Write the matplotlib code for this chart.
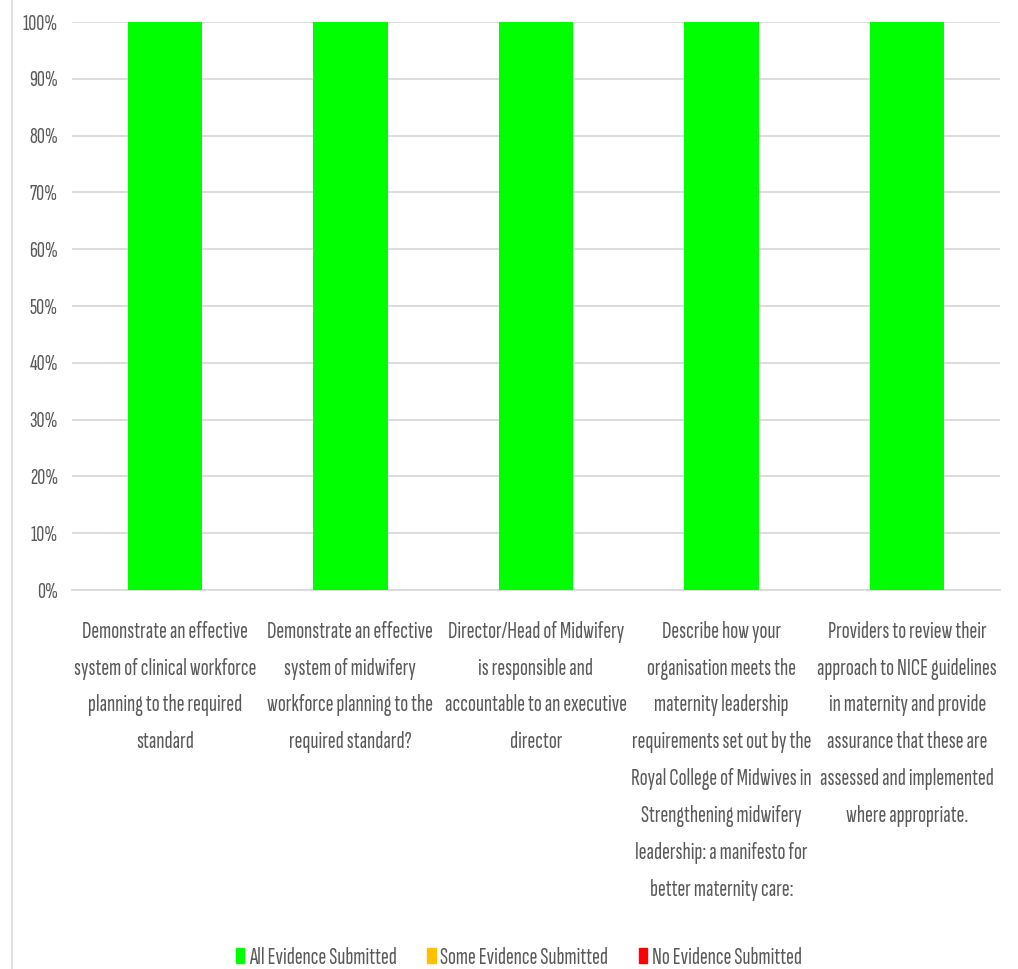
import matplotlib.pyplot as plt
from matplotlib.lines import Line2D
import numpy as np

# Evidence status per maternity standard (percent of evidence submitted)
categories = [
    "Demonstrate an effective\nsystem of clinical workforce\nplanning to the required\nstandard",
    "Demonstrate an effective\nsystem of midwifery\nworkforce planning to the\nrequired standard?",
    "Director/Head of Midwifery\nis responsible and\naccountable to an executive\ndirector",
    "Describe how your\norganisation meets the\nmaternity leadership\nrequirements set out by the\nRoyal College of Midwives in\nStrengthening midwifery\nleadership: a manifesto for\nbetter maternity care:",
    "Providers to review their\napproach to NICE guidelines\nin maternity and provide\nassurance that these are\nassessed and implemented\nwhere appropriate.",
]
all_evidence = [100, 100, 100, 100, 100]
some_evidence = [0, 0, 0, 0, 0]
no_evidence = [0, 0, 0, 0, 0]
series_names = ["All Evidence Submitted", "Some Evidence Submitted", "No Evidence Submitted"]
series_colors = ["#00FF00", "#FFC000", "#FF0000"]

plt.rcParams["font.family"] = ["Sofia Sans Extra Condensed", "DejaVu Sans"]
text_color = "#595959"

fig = plt.figure(figsize=(10.18, 9.69), dpi=100)
ax = fig.add_axes([72 / 1018, 1 - 590 / 969, 928 / 1018, 568 / 969])

x = np.arange(len(categories))
bottom = np.zeros(len(categories))
for values, color in zip([all_evidence, some_evidence, no_evidence], series_colors):
    ax.bar(x, values, bottom=bottom, width=0.4, color=color, zorder=3)
    bottom += np.array(values)

ax.set_xlim(-0.5, len(categories) - 0.5)
ax.set_ylim(0, 100)
ax.set_yticks(range(0, 101, 10))
ax.set_yticklabels([f"{v}%" for v in range(0, 101, 10)])
ax.yaxis.grid(True, color="#D9D9D9", linewidth=1.3, zorder=0)
ax.tick_params(axis="y", length=0, pad=10, labelsize=16, labelcolor=text_color)
ax.tick_params(axis="x", length=0, pad=22, labelsize=17, labelcolor=text_color)
ax.set_xticks(x)
ax.set_xticklabels(categories, linespacing=1.88, va="top")
for side in ["top", "right", "left"]:
    ax.spines[side].set_visible(False)
ax.spines["bottom"].set_color("#D9D9D9")
ax.spines["bottom"].set_linewidth(1.3)

# outer chart border on the left
fig.add_artist(Line2D([12 / 1018, 12 / 1018], [0, 1], color="#D9D9D9", linewidth=1.2))

handles = [plt.Rectangle((0, 0), 1, 1, color=c) for c in series_colors]
fig.legend(handles, series_names, loc="center", bbox_to_anchor=(519 / 1018, 1 - 958 / 969),
           ncol=3, frameon=False, fontsize=17, labelcolor=text_color,
           handlelength=0.35, handleheight=0.6, handletextpad=0.2, columnspacing=1.3)

fig.savefig("out.png", dpi=100)
